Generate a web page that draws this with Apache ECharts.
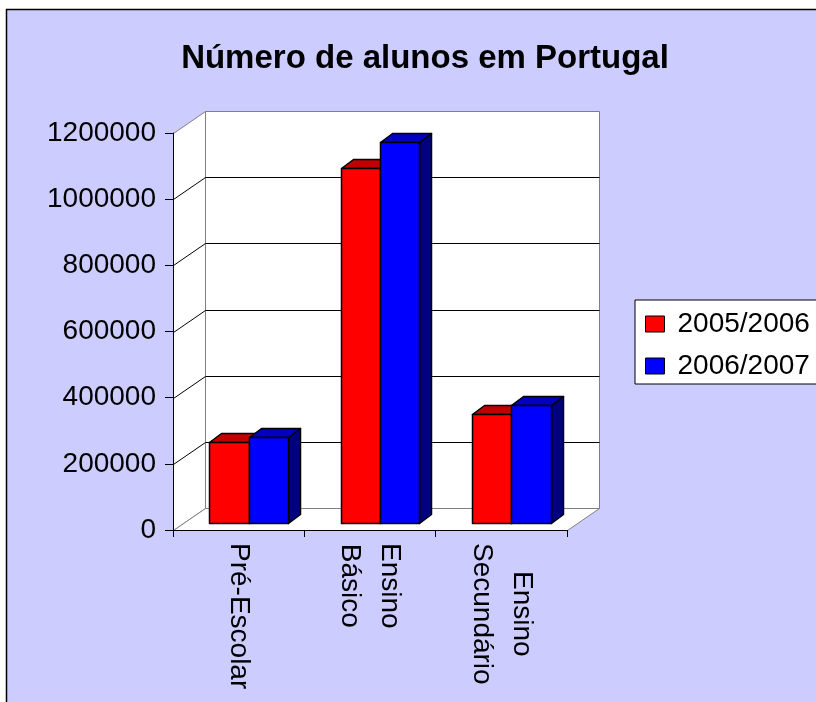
<!DOCTYPE html>
<html><head><meta charset="utf-8">
<script src="https://cdn.jsdelivr.net/npm/echarts@6/dist/echarts.min.js"></script>
<style>html,body{margin:0;padding:0;background:#fff;overflow:hidden}#c{width:816px;height:702px}</style>
</head><body><div id="c"></div>
<script>
// ---- data ----
const chartTitle = 'Número de alunos em Portugal';
const categories = ['Pré-Escolar', 'Ensino\nBásico', 'Ensino\nSecundário'];
const seriesNames = ['2005/2006', '2006/2007'];
const values2005 = [246000, 1072000, 329000];
const values2006 = [261000, 1151000, 357000];
const yTicks = [0, 200000, 400000, 600000, 800000, 1000000, 1200000];

// ---- layout / style ----
const FRONT = {left: 173, top: 133, width: 394, height: 397};
const WALL_DEPTH = [32, -22];
const BAR_OFFSET = [10, -7];
const BAR_DEPTH = [12, -9];
const BAR_FRAC = 0.3;
const FONT = "'Liberation Sans', Arial, sans-serif";
const palette = [
  {front: '#FF0000', top: '#C00000', side: '#800000'},
  {front: '#0000FF', top: '#0000C0', side: '#000080'}
];
const crisp = v => Math.round(v) + 0.5;

function renderWalls(params, api) {
  const cs = params.coordSys;
  const dx = WALL_DEPTH[0], dy = WALL_DEPTH[1];
  const x0 = crisp(cs.x), x1 = crisp(cs.x + cs.width);
  const yBase = crisp(api.coord([0, yTicks[0]])[1]);
  const yTop = crisp(api.coord([0, yTicks[yTicks.length - 1]])[1]);
  const gray = '#808080';
  const children = [];
  children.push({type: 'rect', shape: {x: x0 + dx, y: yTop + dy, width: x1 - x0, height: yBase - yTop},
    style: {fill: '#fff', stroke: gray, lineWidth: 1}});
  children.push({type: 'polygon', shape: {points: [[x0, yTop], [x0 + dx, yTop + dy], [x0 + dx, yBase + dy], [x0, yBase]]},
    style: {fill: '#fff', stroke: gray, lineWidth: 1}});
  children.push({type: 'polygon', shape: {points: [[x0, yBase], [x1, yBase], [x1 + dx, yBase + dy], [x0 + dx, yBase + dy]]},
    style: {fill: '#fff', stroke: gray, lineWidth: 1}});
  yTicks.slice(1, -1).forEach(v => {
    const y = crisp(api.coord([0, v])[1]);
    children.push({type: 'polyline', shape: {points: [[x0, y], [x0 + dx, y + dy], [x1 + dx, y + dy]]},
      style: {stroke: '#000', lineWidth: 1, fill: null}});
  });
  return {type: 'group', children: children};
}

function makeBarRenderer(idx) {
  const col = palette[idx];
  return function (params, api) {
    const i = api.value(0), v = api.value(1);
    const band = api.size([1, 0])[0];
    const w = band * BAR_FRAC;
    const c = api.coord([i, v]);
    const b = api.coord([i, 0]);
    const xl = Math.round(c[0] - w + idx * w + BAR_OFFSET[0]) + 0.5;
    const xr = Math.round(c[0] + idx * w + BAR_OFFSET[0]) + 0.5;
    const yt = Math.round(c[1] + BAR_OFFSET[1]) + 0.5;
    const yb = Math.round(b[1] + BAR_OFFSET[1]) + 0.5;
    const ddx = BAR_DEPTH[0], ddy = BAR_DEPTH[1];
    const line = {stroke: '#000', lineWidth: 1.5, lineJoin: 'round'};
    return {type: 'group', children: [
      {type: 'polygon', shape: {points: [[xr, yt], [xr + ddx, yt + ddy], [xr + ddx, yb + ddy], [xr, yb]]},
        style: Object.assign({fill: col.side}, line)},
      {type: 'polygon', shape: {points: [[xl, yt], [xr, yt], [xr + ddx, yt + ddy], [xl + ddx, yt + ddy]]},
        style: Object.assign({fill: col.top}, line)},
      {type: 'rect', shape: {x: xl, y: yt, width: xr - xl, height: yb - yt},
        style: Object.assign({fill: col.front}, line)}
    ]};
  };
}

const chart = echarts.init(document.getElementById('c'), null, {renderer: 'canvas'});

chart.setOption({
  backgroundColor: '#fff',
  animation: false,
  graphic: {elements: [{type: 'rect', z: -10, silent: true,
    shape: {x: 6.5, y: 9.5, width: 900, height: 800},
    style: {fill: '#CCCCFF', stroke: '#000', lineWidth: 1.5}}]},
  title: {text: chartTitle, left: 420, top: 37, textAlign: 'center',
    textStyle: {fontFamily: FONT, fontSize: 33, fontWeight: 'bold', color: '#000'}},
  legend: {
    data: seriesNames, left: 635, top: 300, orient: 'vertical',
    icon: 'rect', itemWidth: 19, itemHeight: 16, itemGap: 12,
    padding: [9, 40, 3, 10],
    backgroundColor: '#fff', borderColor: '#000', borderWidth: 1,
    itemStyle: {borderColor: '#000', borderWidth: 1},
    textStyle: {fontFamily: FONT, fontSize: 28, color: '#000', lineHeight: 30, padding: [0, 0, 0, 8]},
    selectedMode: false
  },
  grid: {left: FRONT.left, top: FRONT.top, width: FRONT.width, height: FRONT.height, containLabel: false},
  xAxis: {
    type: 'category', data: categories, z: 5,
    axisLine: {lineStyle: {color: '#000', width: 1}},
    axisTick: {show: true, length: 7, lineStyle: {color: '#000'}},
    axisLabel: {
      interval: 0, rotate: -90, margin: 13, color: '#000',
      formatter: v => v.split('\n').map(s => '{a|' + s + '}').join('\n'),
      rich: {a: {fontFamily: FONT, fontSize: 28, lineHeight: 40, align: 'center', color: '#000'}}
    },
    splitLine: {show: false}
  },
  yAxis: {
    type: 'value', min: yTicks[0], max: yTicks[yTicks.length - 1],
    interval: yTicks[1] - yTicks[0], z: 5,
    axisLine: {show: true, lineStyle: {color: '#000', width: 1}},
    axisTick: {show: true, length: 8, lineStyle: {color: '#000'}},
    axisLabel: {margin: 17, color: '#000', fontFamily: FONT, fontSize: 28, formatter: v => String(v)},
    splitLine: {show: false}
  },
  series: [
    {type: 'custom', name: '_walls', z: 1, silent: true, renderItem: renderWalls,
      data: [[0, 0]], encode: {x: 0, y: 1}},
    {type: 'custom', name: seriesNames[0], z: 2, renderItem: makeBarRenderer(0),
      itemStyle: {color: palette[0].front, borderColor: '#000', borderWidth: 1},
      data: categories.map((c, i) => [i, values2005[i]]), encode: {x: 0, y: 1}},
    {type: 'custom', name: seriesNames[1], z: 3, renderItem: makeBarRenderer(1),
      itemStyle: {color: palette[1].front, borderColor: '#000', borderWidth: 1},
      data: categories.map((c, i) => [i, values2006[i]]), encode: {x: 0, y: 1}}
  ]
});
</script>
</body></html>
